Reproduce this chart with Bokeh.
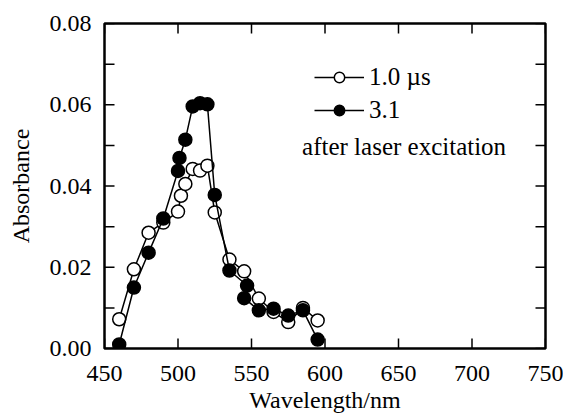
import math
from bokeh.plotting import figure
from bokeh.models import FixedTicker, Legend, LegendItem, Label, Range1d, NumeralTickFormatter
from bokeh.embed import file_html
from bokeh.resources import INLINE

# 1.0 us after laser excitation (open circles)
wl_a = [460, 470, 480, 490, 500, 502, 505, 510, 515, 520, 525, 535, 545, 555, 565, 575, 585, 595]
abs_a = [0.0072, 0.0195, 0.0285, 0.0310, 0.0337, 0.0376, 0.0405, 0.0442, 0.0438, 0.0450, 0.0335,
         0.0219, 0.0190, 0.0123, 0.0090, 0.0065, 0.0100, 0.0069]

# 3.1 us after laser excitation (filled circles)
wl_b = [460, 470, 480, 490, 500, 501, 505, 510, 515, 520, 525, 535, 547, 545, 555, 565, 575, 585, 595]
abs_b = [0.0010, 0.0150, 0.0236, 0.0320, 0.0437, 0.0469, 0.0514, 0.0596, 0.0604, 0.0601, 0.0378,
         0.0192, 0.0155, 0.0124, 0.0094, 0.0098, 0.0081, 0.0094, 0.0022]

x_min, x_max = 450, 750
y_min, y_max = 0.0, 0.08
x_ticks = [450, 500, 550, 600, 650, 700, 750]
y_ticks = [0.00, 0.02, 0.04, 0.06, 0.08]
y_minor = [0.01, 0.03, 0.05, 0.07]

FONT = "Liberation Serif"
W, H = 563, 415
BL, BR, BT, BB = 104, 18, 23, 66
FW, FH = W - BL - BR, H - BT - BB
TICK_PX = 10

p = figure(width=W, height=H,
           x_range=Range1d(x_min, x_max), y_range=Range1d(y_min, y_max),
           output_backend="svg", toolbar_location=None,
           min_border_left=BL, min_border_right=BR, min_border_top=BT, min_border_bottom=BB)
p.grid.visible = False
p.outline_line_color = "black"
p.outline_line_width = 2.5

bottom = p.below[0]
left = p.left[0]
bottom.axis_label = "Wavelength/nm"
left.axis_label = "Absorbance"
bottom.ticker = FixedTicker(ticks=x_ticks, minor_ticks=[])
left.ticker = FixedTicker(ticks=y_ticks, minor_ticks=y_minor)
left.formatter = NumeralTickFormatter(format="0.00")

for ax in [bottom, left]:
    ax.axis_line_color = None
    ax.major_tick_line_color = None
    ax.minor_tick_line_color = None
    ax.major_tick_in = 0
    ax.major_tick_out = 0
    ax.minor_tick_in = 0
    ax.minor_tick_out = 0
    ax.major_label_text_font = FONT
    ax.major_label_text_color = "black"
    ax.major_label_text_font_size = "24px"
    ax.axis_label_text_font = FONT
    ax.axis_label_text_font_size = "24px"
    ax.axis_label_text_font_style = "normal"
    ax.axis_label_text_color = "black"

bottom.major_label_standoff = 17
bottom.axis_label_standoff = 3
left.major_label_standoff = 13
left.axis_label_standoff = 13

# inward tick marks on all four sides, drawn as dash markers from the tick lists
y_all = sorted(y_ticks + y_minor)
tx = TICK_PX * (x_max - x_min) / FW
ty = TICK_PX * (y_max - y_min) / FH
tick_kw = dict(marker="dash", size=TICK_PX, line_color="black", line_width=1.5)
p.scatter(x=x_ticks, y=[y_min + ty / 2] * len(x_ticks), angle=math.pi / 2, **tick_kw)
p.scatter(x=x_ticks, y=[y_max - ty / 2] * len(x_ticks), angle=math.pi / 2, **tick_kw)
p.scatter(x=[x_min + tx / 2] * len(y_all), y=y_all, **tick_kw)
p.scatter(x=[x_max - tx / 2] * len(y_all), y=y_all, **tick_kw)

ra_l = p.line(wl_a, abs_a, line_color="black", line_width=1.5)
ra_m = p.scatter(wl_a, abs_a, size=13, marker="circle", fill_color="white",
                 line_color="black", line_width=1.5)
rb_l = p.line(wl_b, abs_b, line_color="black", line_width=1.5)
rb_m = p.scatter(wl_b, abs_b, size=13, marker="circle", fill_color="black",
                 line_color="black", line_width=1.5)

legend = Legend(items=[LegendItem(label="1.0 µs", renderers=[ra_l, ra_m]),
                       LegendItem(label="3.1", renderers=[rb_l, rb_m])],
                location=(210, 224), glyph_width=50, glyph_height=26, label_height=26,
                label_standoff=5, spacing=5, padding=0, margin=0,
                border_line_color=None, background_fill_alpha=0,
                label_text_font=FONT, label_text_font_size="25px", label_text_color="black")
p.add_layout(legend)

note = Label(x=584.4, y=0.0498, text="after laser excitation", text_baseline="middle",
             text_font=FONT, text_font_size="25px", text_color="black")
p.add_layout(note)

open("out.html", "w").write(file_html(p, INLINE))
